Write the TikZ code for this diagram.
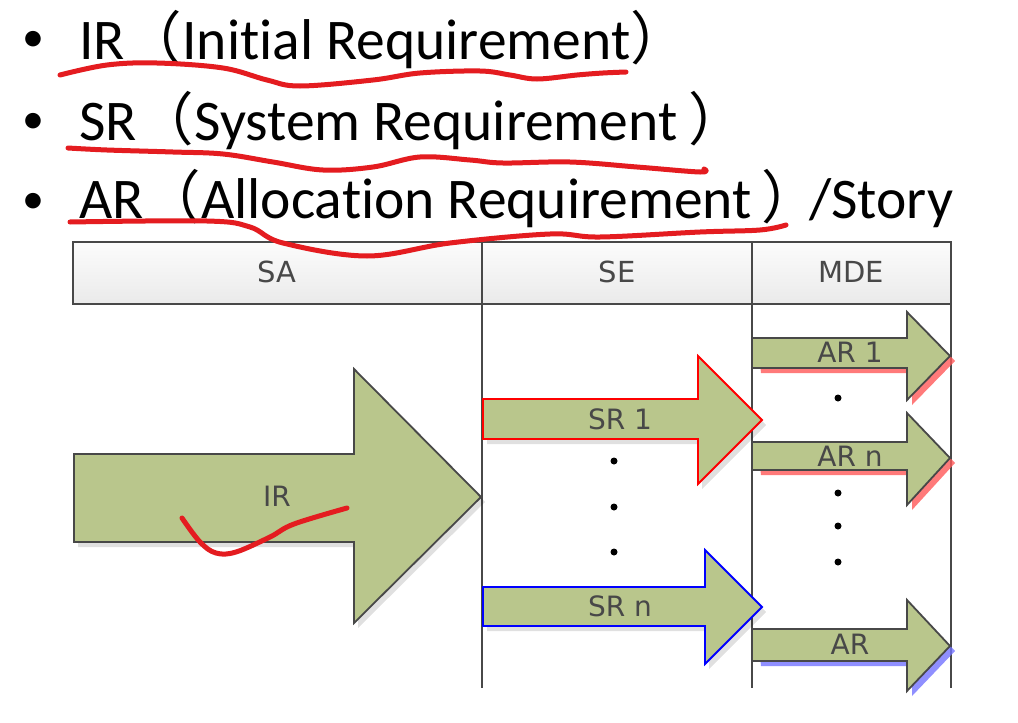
\documentclass[tikz,border=0pt]{standalone}
\usepackage{fontspec}
\setmainfont[Ligatures=NoCommon]{Carlito}
\newfontfamily\cjkf{Noto Sans CJK SC}
\newfontfamily\lblf{DejaVu Sans}
\usetikzlibrary{calc}
\definecolor{arrowgreen}{RGB}{185,198,140}
\definecolor{edgegray}{RGB}{72,72,72}
\definecolor{pen}{RGB}{228,28,32}
\definecolor{hdrtop}{RGB}{252,252,252}
\definecolor{hdrbot}{RGB}{234,234,234}
\tikzset{
  bigtext/.style={anchor=base west,inner sep=0pt,font=\fontsize{57.5}{60}\selectfont},
  bul/.style={inner sep=0pt,font=\fontsize{44}{50}\selectfont},
  hdrtext/.style={font=\lblf\fontsize{29}{32}\selectfont,text=edgegray},
  arrtext/.style={font=\lblf\fontsize{28}{30}\selectfont,text=edgegray},
  hdrcell/.style={draw=edgegray,line width=2pt,top color=hdrtop,bottom color=hdrbot},
  lane/.style={draw=edgegray,line width=2pt},
  greenarrow/.style={fill=arrowgreen,draw=edgegray,line width=1.8pt,line join=miter},
  graysh/.style={fill=black,opacity=0.12},
  penline/.style={draw=pen,line width=5pt,line cap=round,line join=round},
  dotmark/.style={circle,fill=black,inner sep=0pt,minimum size=7pt}
}
\begin{document}
\begin{tikzpicture}[x=1pt,y=-1pt]
\useasboundingbox[fill=white] (0,0) rectangle (1018,723);

% ---- bullet text ----
\node[bul] (b1) at (33,41) {\textbullet};
\node[bul] (b2) at (33,123) {\textbullet};
\node[bul] (b3) at (33,203) {\textbullet};
\node[bigtext] (t1) at (79,59) {IR{\cjkf （}Initial Requirement{\cjkf ）}};
\node[bigtext] (t2) at (79,140) {SR{\cjkf （}System Requirement\kern-2pt\ {\cjkf ）}};
\node[bigtext] (t3) at (79,218) {AR{\cjkf （}Allocation Requirement\kern-3pt\ {\cjkf ）}\kern-10pt/Story};

% ---- header ----
\draw[hdrcell] (73,242) rectangle (482,304);
\draw[hdrcell] (482,242) rectangle (752,304);
\draw[hdrcell] (752,242) rectangle (951,304);
\node[hdrtext] (hSA) at (277,272) {SA};
\node[hdrtext] (hSE) at (617,272) {SE};
\node[hdrtext] (hMDE) at (851,272) {MDE};

% ---- lanes ----
\draw[lane] (482,304) -- (482,688);
\draw[lane] (752,304) -- (752,688);
\draw[lane] (951,304) -- (951,688);

% ---- IR arrow ----
\fill[graysh,shift={(4,5)}] (74,454) -- (354,454) -- (354,369) -- (481,497) -- (354,623) -- (354,542) -- (74,542) -- cycle;
\draw[greenarrow] (74,454) -- (354,454) -- (354,369) -- (481,497) -- (354,623) -- (354,542) -- (74,542) -- cycle;
\node[arrtext] (IR) at (277,496) {IR};

% ---- SR arrows ----
\fill[graysh,shift={(4,5)}] (483,399) -- (698,399) -- (698,356) -- (762,420) -- (698,484) -- (698,439) -- (483,439) -- cycle;
\draw[greenarrow,draw=red] (483,399) -- (698,399) -- (698,356) -- (762,420) -- (698,484) -- (698,439) -- (483,439) -- cycle;
\node[arrtext] (SR1) at (620,419) {SR 1};

\fill[graysh,shift={(4,5)}] (483,587) -- (705,587) -- (705,550) -- (762,607) -- (705,664) -- (705,626) -- (483,626) -- cycle;
\draw[greenarrow,draw=blue] (483,587) -- (705,587) -- (705,550) -- (762,607) -- (705,664) -- (705,626) -- (483,626) -- cycle;
\node[arrtext] (SRn) at (620,606) {SR n};

\node[dotmark] (d1) at (614,461) {};
\node[dotmark] (d2) at (614,507) {};
\node[dotmark] (d3) at (614,552) {};

% ---- AR arrows ----
\fill[red!65,opacity=0.8,shift={(5,5)}] (753,338) -- (907,338) -- (907,312) -- (950,356) -- (907,400) -- (907,368) -- (756,368) -- cycle;
\draw[greenarrow] (753,338) -- (907,338) -- (907,312) -- (950,356) -- (907,400) -- (907,368) -- (753,368);
\node[arrtext] (AR1) at (850,352) {AR 1};

\fill[red!65,opacity=0.8,shift={(5,5)}] (753,442) -- (907,442) -- (907,413) -- (950,458) -- (907,505) -- (907,470) -- (756,470) -- cycle;
\draw[greenarrow] (753,442) -- (907,442) -- (907,413) -- (950,458) -- (907,505) -- (907,470) -- (753,470);
\node[arrtext] (ARn) at (850,456) {AR n};

\fill[blue!55,opacity=0.8,shift={(5,5)}] (753,629) -- (907,629) -- (907,600) -- (950,646) -- (907,691) -- (907,661) -- (756,661) -- cycle;
\draw[greenarrow] (753,629) -- (907,629) -- (907,600) -- (950,646) -- (907,691) -- (907,661) -- (753,661);
\node[arrtext] (AR) at (850,644) {AR};

\node[dotmark] (e1) at (838,398) {};
\node[dotmark] (e2) at (838,493) {};
\node[dotmark] (e3) at (838,526) {};
\node[dotmark] (e4) at (838,562) {};

% ---- hand-drawn pen strokes ----
\draw[penline] plot[smooth,tension=0.6] coordinates {(60,75) (107,65) (157,63) (223,68) (267,80) (300,86) (373,80) (420,73) (480,71) (510,75) (537,79) (577,75) (603,73) (626,72)};
\draw[penline] plot[smooth,tension=0.6] coordinates {(68,148) (107,150) (173,152) (223,154) (273,162) (323,170) (373,167) (420,157) (470,160) (503,163) (570,162) (637,167) (700,172) (704,169)};
\draw[penline] plot[smooth,tension=0.6] coordinates {(70,222) (207,221) (250,227) (283,243) (367,256) (450,243) (550,234) (600,237) (700,232) (760,230) (786,225)};
\draw[penline] plot[smooth,tension=0.6] coordinates {(182,518) (200,542) (216,553) (236,552) (270,537) (294,524) (347,508)};
\end{tikzpicture}
\end{document}
